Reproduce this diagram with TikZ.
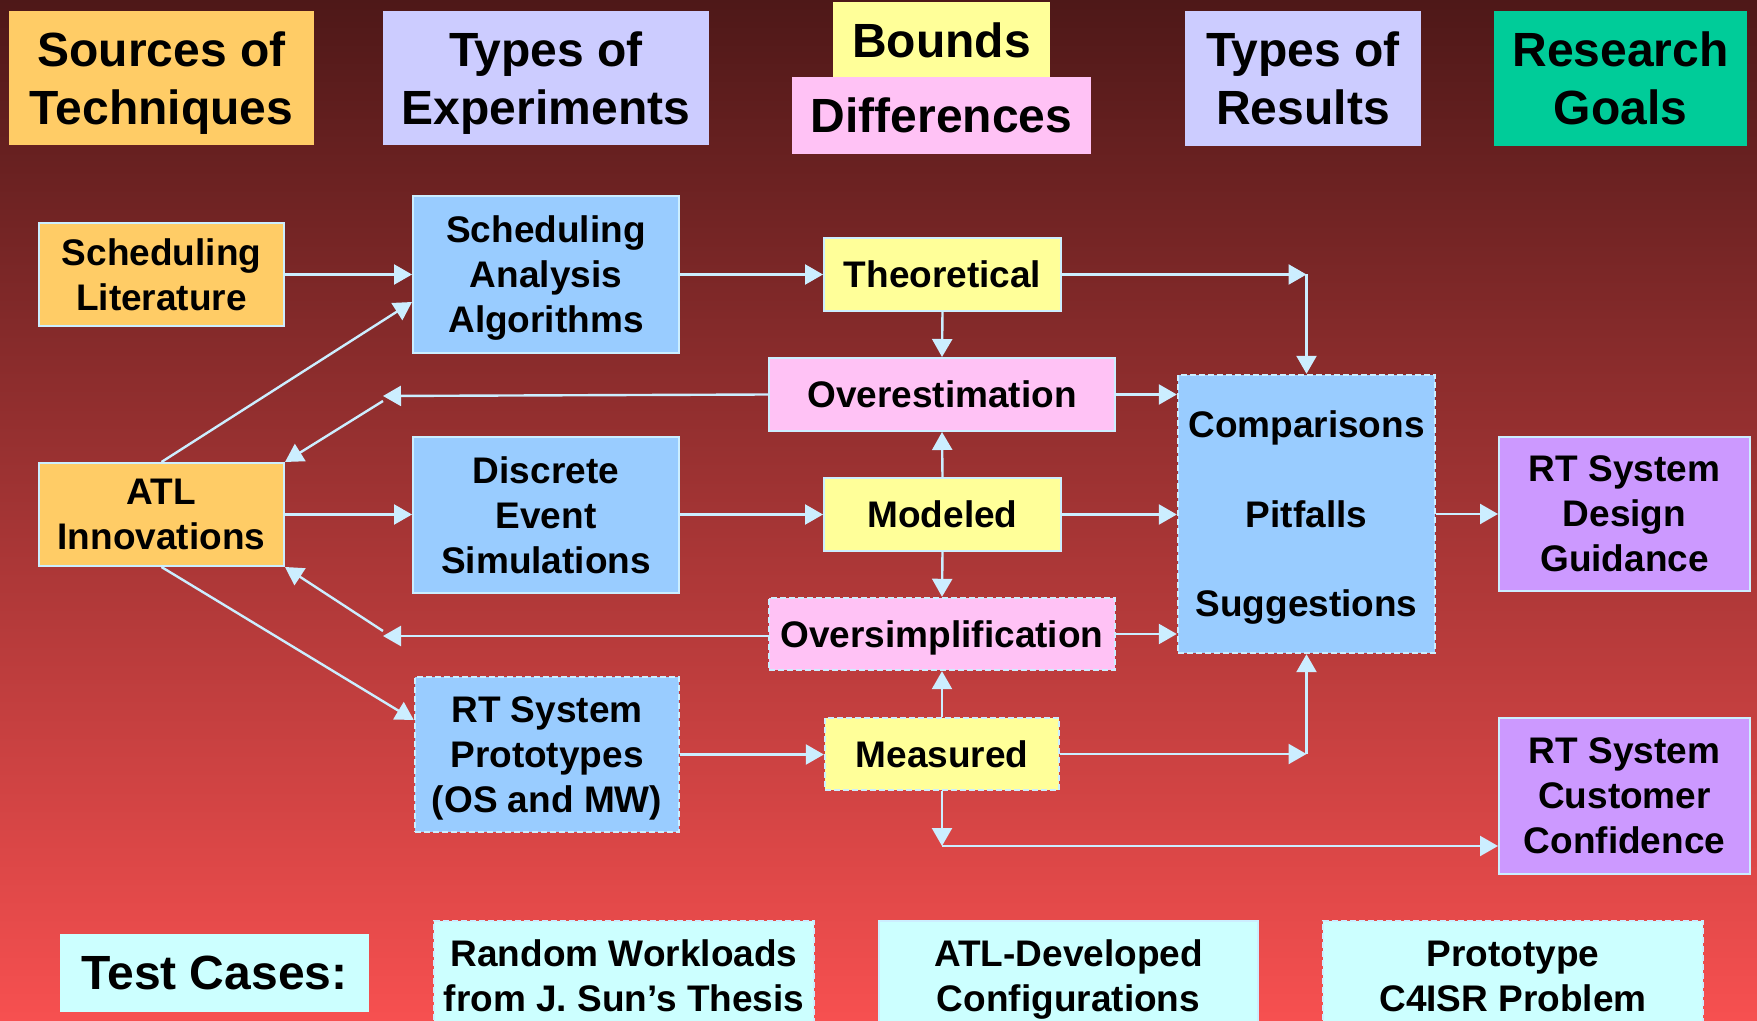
\documentclass[tikz,border=0pt]{standalone}
\usepackage{fontspec}
\setmainfont{Liberation Sans}
\usetikzlibrary{arrows.meta}

\definecolor{bgtop}{HTML}{4E1818}
\definecolor{bgbot}{HTML}{F75050}
\definecolor{edge}{HTML}{CCEEFF}
\definecolor{orangebox}{HTML}{FFCC66}
\definecolor{lavbox}{HTML}{CCCCFF}
\definecolor{yelbox}{HTML}{FFFF99}
\definecolor{pinkbox}{HTML}{FFC2F5}
\definecolor{greenbox}{HTML}{00CC99}
\definecolor{bluebox}{HTML}{99CCFF}
\definecolor{purplebox}{HTML}{CC99FF}
\definecolor{cyanbox}{HTML}{CCFFFF}

\newcommand\hdrfont{\fontsize{24}{29}\selectfont\bfseries}
\newcommand\bodyfont{\fontsize{18.5}{22.5}\selectfont\bfseries}

\tikzset{
  sz/.style 2 args={minimum width=#1*0.5pt, minimum height=#2*0.5pt},
  hdr/.style={inner sep=0pt, align=center, font=\hdrfont, text=black, text depth=0pt},
  box/.style={draw=edge, line width=1pt, inner sep=0pt, align=center, font=\bodyfont, text=black, text depth=0pt},
  dbox/.style={box, line width=1.2pt, dash pattern=on 3pt off 1.5pt},
  arr/.style={draw=edge, line width=1.2pt, -{Triangle[length=9pt,width=10pt]}},
}

\begin{document}
\begin{tikzpicture}[x=0.5pt, y=-0.5pt]
\useasboundingbox (0,0) rectangle (1757,1021);
\clip (0,0) rectangle (1757,1021);
\shade[top color=bgtop, bottom color=bgbot] (0,0) rectangle (1757,1021);

% column headers
\node[hdr, fill=orangebox, sz={305}{134}] (src) at (161.5,78) {Sources of\\Techniques};
\node[hdr, fill=lavbox, sz={326}{134}] (toe) at (546,78) {Types of\\Experiments};
\node[hdr, fill=yelbox, sz={217}{76}] (bnd) at (941.5,40) {Bounds};
\node[hdr, fill=pinkbox, sz={299}{77}] (dif) at (941.5,115.5) {Differences};
\node[hdr, fill=lavbox, sz={236}{135}] (tor) at (1303,78.5) {Types of\\Results};
\node[hdr, fill=greenbox, sz={253}{135}] (rg) at (1620.5,78.5) {Research\\Goals};

% sources
\node[box, fill=orangebox, sz={245}{103}] (lit) at (161.5,274.5) {Scheduling\\Literature};
\node[box, fill=orangebox, sz={245}{103}] (atl) at (161.5,514.5) {ATL\\Innovations};

% experiments
\node[box, fill=bluebox, sz={266}{157}] (saa) at (546,274.5) {Scheduling\\Analysis\\Algorithms};
\node[box, fill=bluebox, sz={266}{156}] (des) at (546,515) {Discrete\\Event\\Simulations};
\node[dbox, fill=bluebox, sz={264}{155}] (proto) at (547,754.5) {RT System\\Prototypes\\(OS and MW)};

% bounds and differences
\node[box, fill=yelbox, sz={237}{73}] (theo) at (942.5,274.5) {Theoretical};
\node[box, fill=pinkbox, sz={346}{73}] (over) at (942,394.5) {Overestimation};
\node[box, fill=yelbox, sz={237}{73}] (mod) at (942.5,514.5) {Modeled};
\node[dbox, fill=pinkbox, sz={346}{72}] (simp) at (942,634) {Oversimplification};
\node[dbox, fill=yelbox, sz={234}{72}] (meas) at (942,754) {Measured};

% results and goals
\node[dbox, fill=bluebox, sz={257}{278}] (cmp) at (1306.5,514) {Comparisons\\[22.25pt]Pitfalls\\[22.25pt]Suggestions};
\node[box, fill=purplebox, sz={251}{154}] (dg) at (1624.5,514) {RT System\\Design\\Guidance};
\node[box, fill=purplebox, sz={251}{156}] (cc) at (1624.5,796) {RT System\\Customer\\Confidence};

% test cases
\node[hdr, fill=cyanbox, sz={309}{78}] (tc) at (214.5,973) {Test Cases:};
\node[dbox, fill=cyanbox, sz={380}{110}] (rw) at (624,976) {Random Workloads\\from J. Sun’s Thesis};
\node[box, fill=cyanbox, sz={379}{110}] (ac) at (1068.5,976) {ATL-Developed\\Configurations};
\node[dbox, fill=cyanbox, sz={380}{110}] (c4) at (1513,976) {Prototype\\C4ISR Problem};

% bend points
\coordinate (c1) at (cmp.north |- theo.east);
\coordinate (c2) at (383,396);
\coordinate (c3) at (383,636);
\coordinate (c4pt) at (cmp.south |- meas.east);
\coordinate (c5) at (942,846);

% connectors
\draw[arr] (lit.east) -- (lit.east -| saa.west);
\draw[arr] (atl.north) -- ([yshift=-13.75pt]saa.west);
\draw[arr] (saa.east |- theo.west) -- (theo.west);
\draw[arr] (theo.east) -- (c1);
\draw[arr] (c1) -- (cmp.north);
\draw[arr] (theo.south) -- (over.north);
\draw[arr] (over.west) -- (c2);
\draw[arr] ([yshift=-2.5pt]c2) -- (atl.north east);
\draw[arr] (over.east) -- (over.east -| cmp.west);
\draw[arr] (mod.north) -- (over.south);
\draw[arr] (mod.south) -- (simp.north);
\draw[arr] (atl.east) -- (atl.east -| des.west);
\draw[arr] (des.east |- mod.west) -- (mod.west);
\draw[arr] (mod.east) -- (mod.east -| cmp.west);
\draw[arr] (simp.west |- c3) -- (c3);
\draw[arr] ([yshift=2.5pt]c3) -- (atl.south east);
\draw[arr] (simp.east) -- (simp.east -| cmp.west);
\draw[arr] (meas.north) -- (simp.south);
\draw[arr] (atl.south) -- ([yshift=17.25pt]proto.west);
\draw[arr] (proto.east) -- (proto.east -| meas.west);
\draw[arr] (meas.east) -- (c4pt);
\draw[arr] (c4pt) -- (cmp.south);
\draw[arr] (meas.south) -- (c5);
\draw[arr] (c5) -- (c5 -| cc.west);
\draw[arr] (cmp.east) -- (dg.west);
\end{tikzpicture}
\end{document}
